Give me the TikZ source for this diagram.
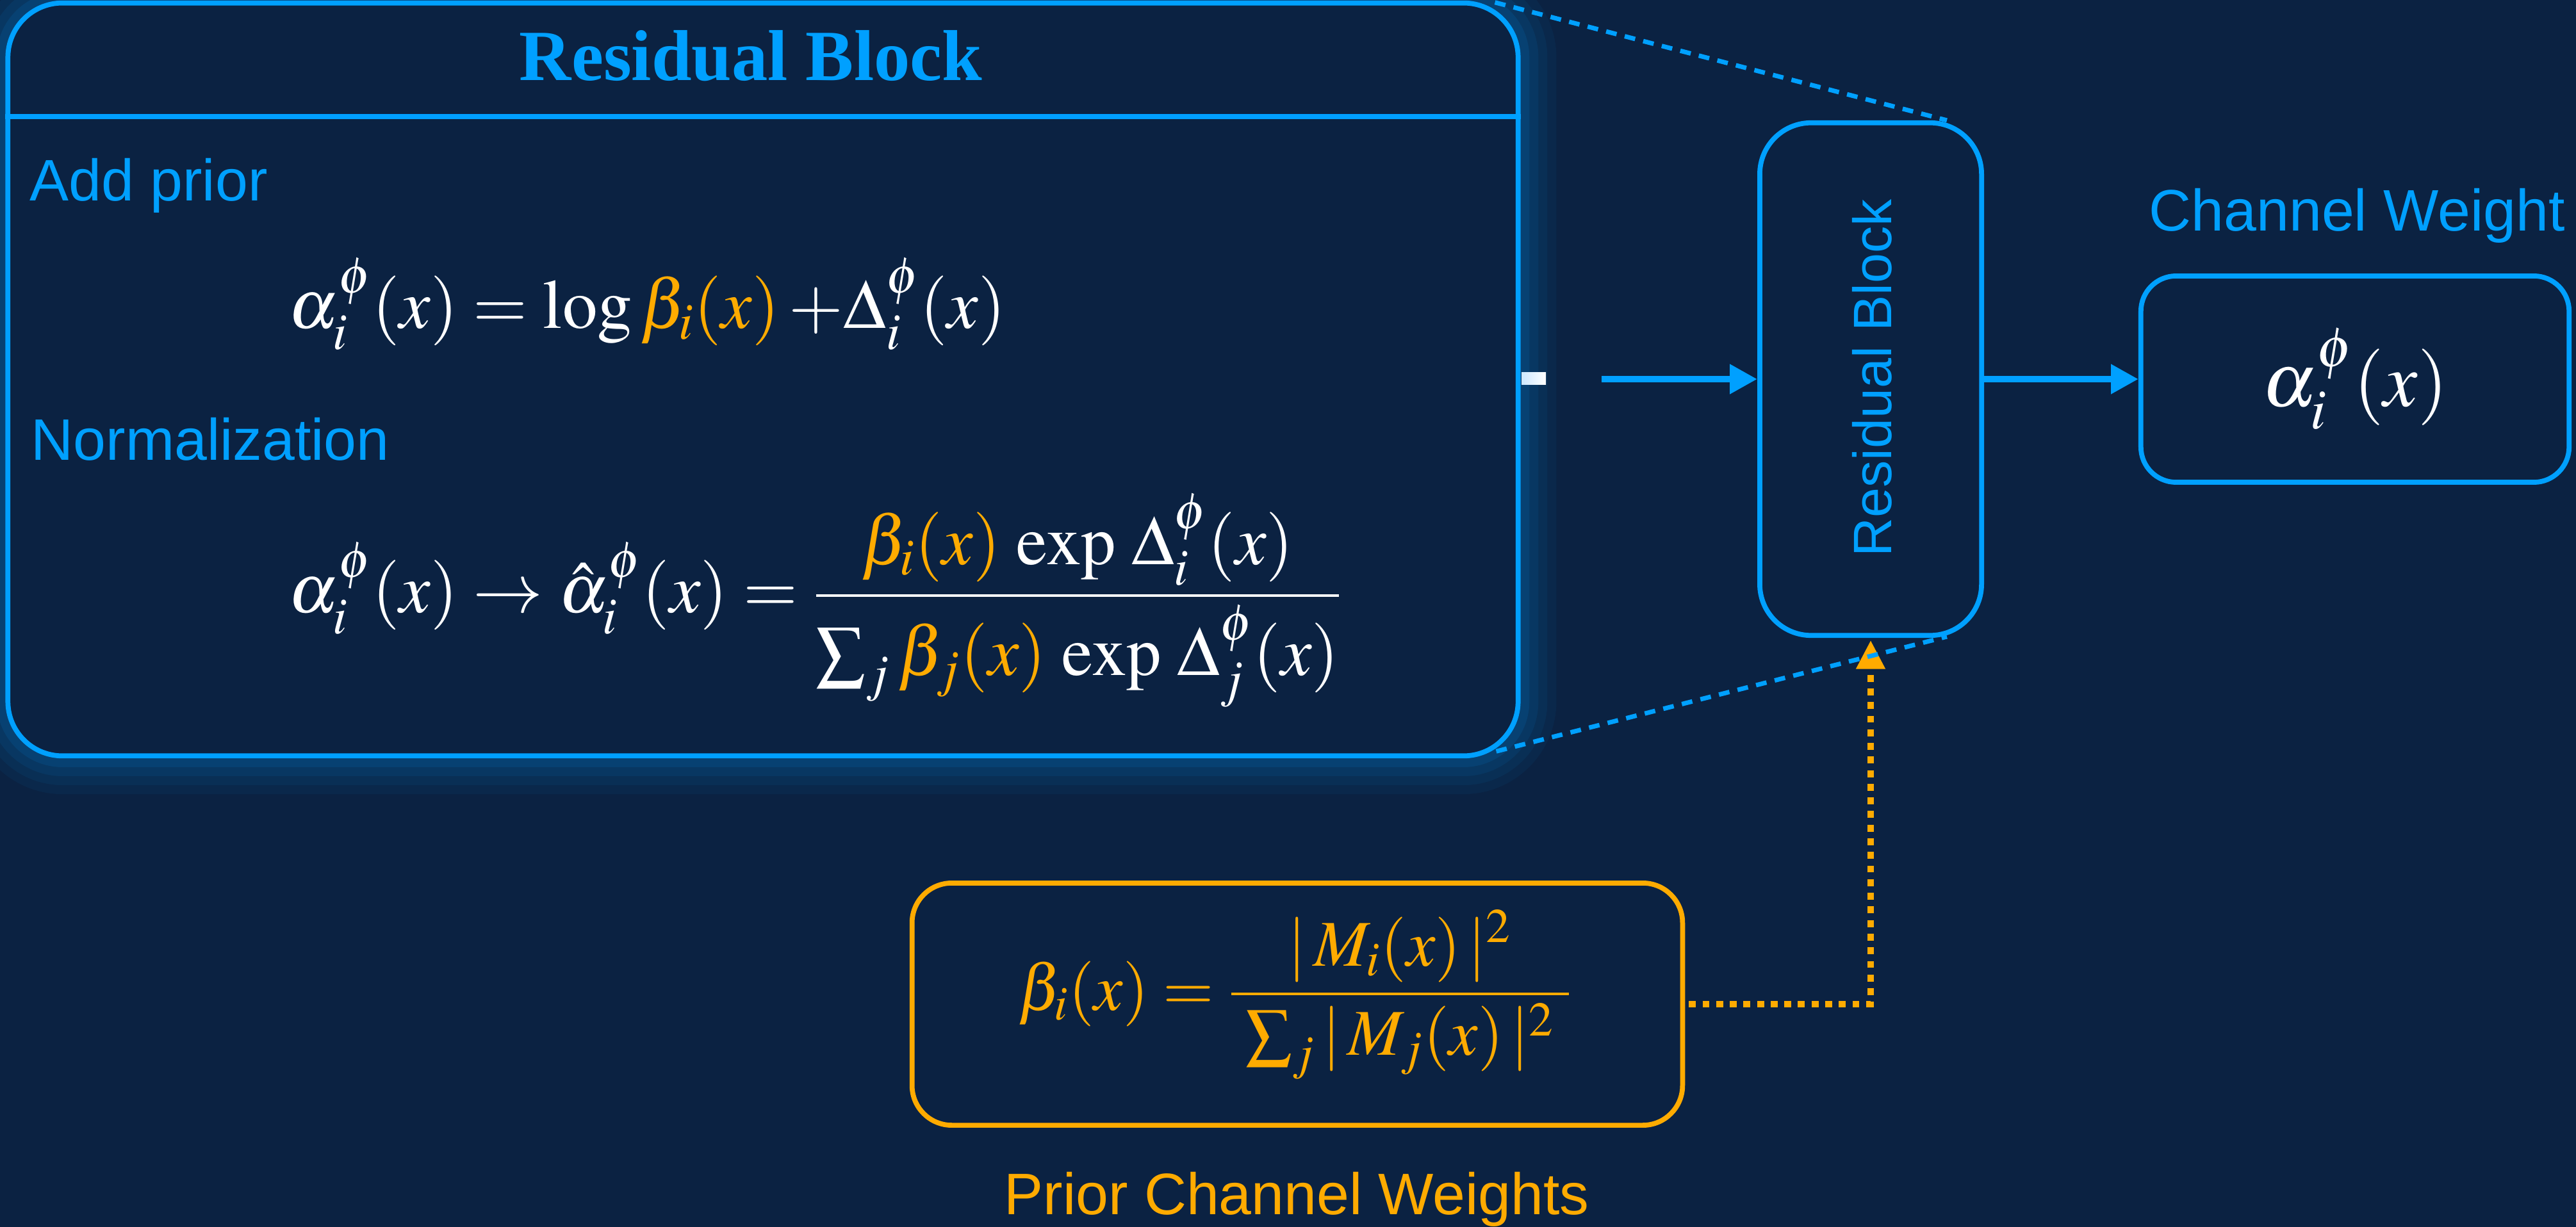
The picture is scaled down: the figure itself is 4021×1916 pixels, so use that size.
\documentclass[tikz,border=0pt]{standalone}
\usepackage{mathptmx}
\usepackage{fontspec}
\setmainfont{Liberation Serif}
\setsansfont{Liberation Sans}
\usetikzlibrary{arrows.meta,calc}
\definecolor{bgc}{HTML}{0B2242}
\definecolor{rbblue}{HTML}{00A0FF}
\definecolor{prorange}{HTML}{FFAB00}
\tikzset{
 blueline/.style={draw=rbblue, line width=2.2pt},
 bigbox/.style={blueline, fill=bgc, rounded corners=0.85cm, minimum width=23.56cm, minimum height=11.75cm, inner sep=0pt,
   preaction={draw=rbblue, line width=34pt, draw opacity=0.05},
   preaction={draw=rbblue, line width=26pt, draw opacity=0.06},
   preaction={draw=rbblue, line width=18pt, draw opacity=0.08},
   preaction={draw=rbblue, line width=10pt, draw opacity=0.1}},
 rbbox/.style={blueline, fill=bgc, rounded corners=0.8cm, minimum width=3.46cm, minimum height=8cm, inner sep=0pt},
 chbox/.style={blueline, fill=bgc, rounded corners=0.55cm, minimum width=6.68cm, minimum height=3.22cm, inner sep=0pt, text=white, font=\fontsize{34}{40}\selectfont},
 priorbox/.style={draw=prorange, line width=2.2pt, fill=bgc, rounded corners=0.62cm, minimum width=12.02cm, minimum height=3.78cm, inner sep=0pt},
 lbl/.style={font=\sffamily\fontsize{26}{31}\selectfont, text=rbblue, inner sep=0pt},
 eq/.style={text=white, font=\fontsize{31}{37}\selectfont, inner sep=0pt},
 flow/.style={draw=rbblue, line width=3.1pt, -{Triangle[length=12.2pt,width=12.5pt]}},
 zoomline/.style={draw=rbblue, line width=2pt, dash pattern=on 4.8pt off 3.7pt},
 priorflow/.style={draw=prorange, line width=3.1pt, dash pattern=on 3.1pt off 2.95pt, -{Triangle[length=12.8pt,width=12.2pt]}},
}
\begin{document}
\begin{tikzpicture}[x=0.01cm,y=-0.01cm]
\fill[bgc] (0,0) rectangle (4021,1916);
\useasboundingbox (0,0) rectangle (4021,1916);

% big residual block
\node[bigbox] (big) at (1191,592.5) {};
\coordinate (hl) at (0,182);
\draw[blueline] (big.west |- hl) -- (big.east |- hl);
\node[anchor=base, inner sep=0pt, text=rbblue, font=\bfseries\fontsize{32}{38}\selectfont] (title) at (1172,126) {Residual Block};
\node[lbl, anchor=base west] (addprior) at (46,314) {Add prior};
\node[lbl, anchor=base west] (norm) at (48,719) {Normalization};
\node[eq, anchor=base west] (eqa) at (450,513) {$\alpha_i^{\phi}(x) = \log {\color{prorange}\beta_i(x)} \mskip\medmuskip {+}\Delta_i^{\phi}(x)$};
\node[eq, anchor=base west] (eqb) at (450,957) {$\displaystyle \alpha_i^{\phi}(x) \rightarrow \hat{\alpha}_i^{\phi}(x) = \frac{{\color{prorange}\beta_i(x)}\,\exp\,\Delta_i^{\phi}(x)}{\sum\nolimits_j {\color{prorange}\beta_j(x)}\,\exp\,\Delta_j^{\phi}(x)}$};
\node[inner sep=0pt, minimum width=0.38cm, minimum height=0.19cm, left color={rgb,255:red,205;green,232;blue,255}, right color=white] (mark) at (2394,591.5) {};

% small residual block
\node[rbbox] (rb) at (2920,592) {};
\node[rotate=90, inner sep=0pt, text=rbblue, font=\sffamily\fontsize{24}{29}\selectfont] (rblabel) at (2922,590) {Residual Block};

% channel weight
\node[chbox] (ch) at (3676,592) {$\alpha_i^{\phi}(x)$};
\node[lbl, anchor=base west] (chlabel) at (3354,361) {Channel Weight};

% prior
\node[priorbox] (prior) at (2025,1568) {};
\node[inner sep=0pt, text=prorange, font=\fontsize{29}{35}\selectfont] (priorfml) at ($(prior.center)+(-4,-15)$) {$\displaystyle \beta_i(x) = \frac{|\,M_i(x)\,|^2}{\mkern4mu\sum\nolimits_j |\,M_j(x)\,|^2\mkern4mu}$};
\node[lbl, anchor=base west, text=prorange] (priorlabel) at (1567,1896) {Prior Channel Weights};

% connectors
\coordinate (a1) at (2500,592);
\draw[flow] (a1) -- (rb.west);
\draw[flow] (rb.east) -- (ch.west);
\draw[priorflow, shorten <=1.7pt, shorten >=1pt] (prior.east) -| (rb.south);
\draw[zoomline] ($(big.north east)+(-40,3)$) -- ($(rb.north east)+(-58,0)$);
\draw[zoomline] ($(big.south east)+(-38,-11)$) -- ($(rb.south east)+(-58,-2)$);
\end{tikzpicture}
\end{document}
